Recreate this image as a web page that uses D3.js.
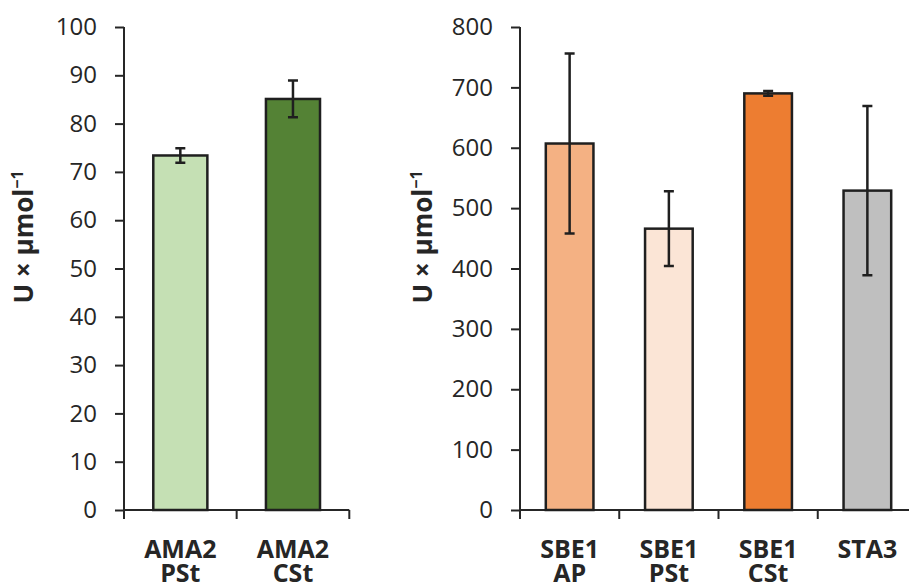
<!DOCTYPE html>
<html lang="en">
<head>
<meta charset="utf-8">
<title>U per µmol bars</title>
<style>
body { margin: 0; background: #fff; }
svg { font-family: "Open Sans", sans-serif; }
.axis path, .axis line { stroke: #262626; stroke-width: 2px; }
.axis text { font-family: "Open Sans", sans-serif; font-size: 24px; fill: #262626; }
.cat { font-size: 25px; font-weight: bold; fill: #262626; }
.ylab { font-size: 26px; font-weight: bold; fill: #262626; }
.bar { stroke: #1f1f1f; stroke-width: 2.5px; }
.err { stroke: #1f1f1f; stroke-width: 2.5px; fill: none; }
</style>
</head>
<body>
<svg width="909" height="586"></svg>
<script src="https://cdn.jsdelivr.net/npm/d3@7"></script>
<script>
// left panel data
const leftCats = [["AMA2", "PSt"], ["AMA2", "CSt"]];
const leftVals = [73.4, 85.1];
const leftErr = [1.5, 3.8];
const leftColors = ["#c5e0b4", "#548235"];
const leftTicks = [0, 10, 20, 30, 40, 50, 60, 70, 80, 90, 100];

// right panel data
const rightCats = [["SBE1", "AP"], ["SBE1", "PSt"], ["SBE1", "CSt"], ["STA3"]];
const rightVals = [607, 466, 690, 529];
const rightErr = [149, 62, 4, 140];
const rightColors = ["#f4b183", "#fbe5d6", "#ed7d31", "#bfbfbf"];
const rightTicks = [0, 100, 200, 300, 400, 500, 600, 700, 800];

const svg = d3.select("svg");

function panel(cfg) {
  const g = svg.append("g");
  const x = d3.scaleBand()
      .domain(d3.range(cfg.cats.length))
      .range([cfg.x0, cfg.x1])
      .paddingInner(0.52)
      .paddingOuter(0.26);
  const y = d3.scaleLinear()
      .domain([0, cfg.max])
      .range([510, 27]);

  // y axis
  g.append("g")
      .attr("class", "axis")
      .attr("transform", "translate(" + cfg.x0 + ",0)")
      .call(d3.axisLeft(y).tickValues(cfg.ticks).tickSize(9).tickSizeOuter(0).tickPadding(18))
      .call(a => a.select(".domain").attr("d", "M0," + y(0) + "V" + y(cfg.max)));

  // x axis line with ticks on band edges
  const step = x.step();
  const xa = g.append("g").attr("class", "axis");
  xa.append("line")
      .attr("x1", cfg.x0).attr("x2", cfg.xEnd)
      .attr("y1", y(0)).attr("y2", y(0));
  xa.selectAll(".tk")
      .data(d3.range(cfg.cats.length + (cfg.lastTick ? 1 : 0)))
    .enter().append("line")
      .attr("x1", d => cfg.x0 + d * step).attr("x2", d => cfg.x0 + d * step)
      .attr("y1", y(0)).attr("y2", y(0) + 9);

  // bars
  g.selectAll(".bar")
      .data(cfg.vals)
    .enter().append("rect")
      .attr("class", "bar")
      .attr("x", (d, i) => x(i))
      .attr("width", x.bandwidth())
      .attr("y", d => y(d))
      .attr("height", d => y(0) - y(d))
      .attr("fill", (d, i) => cfg.colors[i]);

  // error bars
  cfg.vals.forEach((v, i) => {
    const cx = x(i) + x.bandwidth() / 2;
    const e = cfg.err[i];
    const hi = y(v + e), lo = y(v - e);
    g.append("path")
        .attr("class", "err")
        .attr("d", "M" + cx + "," + hi + "V" + lo +
          "M" + (cx - 5) + "," + hi + "H" + (cx + 5) +
          "M" + (cx - 5) + "," + lo + "H" + (cx + 5));
  });

  // category labels, one text per line
  cfg.cats.forEach((c, i) => {
    c.forEach((line, k) => {
      g.append("text")
          .attr("class", "cat")
          .attr("text-anchor", "middle")
          .attr("x", x(i) + x.bandwidth() / 2)
          .attr("y", 558 + k * 24)
          .text(line);
    });
  });

  // y label
  const yl = g.append("text")
      .attr("class", "ylab")
      .attr("text-anchor", "middle")
      .attr("transform", "translate(" + cfg.labX + ",237) rotate(-90)");
  yl.append("tspan").text("U × µmol");
  yl.append("tspan").attr("dy", -10).attr("font-size", 16).text("−1");
}

panel({
  cats: leftCats, vals: leftVals, err: leftErr, colors: leftColors, ticks: leftTicks,
  max: 100, x0: 124, x1: 349.3, xEnd: 349.3, lastTick: true, labX: 33
});

panel({
  cats: rightCats, vals: rightVals, err: rightErr, colors: rightColors, ticks: rightTicks,
  max: 800, x0: 520, x1: 917, xEnd: 917, lastTick: false, labX: 432
});
</script>
</body>
</html>
